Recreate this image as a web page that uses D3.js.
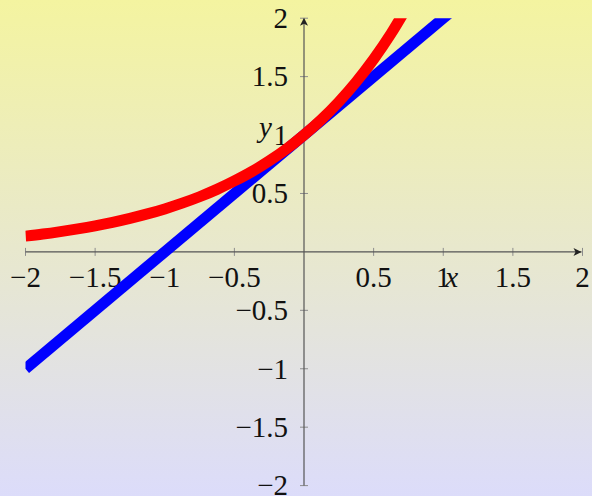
<!DOCTYPE html>
<html>
<head>
<meta charset="utf-8">
<script src="https://cdn.jsdelivr.net/npm/d3@7"></script>
<style>
  html, body { margin: 0; padding: 0; }
  svg { display: block; }
</style>
</head>
<body>
<script>
// Exponential curve samples, y = e^x
const expX = [-2, -1.875, -1.75, -1.625, -1.5, -1.375, -1.25, -1.125, -1, -0.875, -0.75, -0.625, -0.5, -0.375, -0.25, -0.125, 0, 0.125, 0.25, 0.375, 0.5, 0.625, 0.75];
const expY = [0.135, 0.153, 0.174, 0.197, 0.223, 0.253, 0.287, 0.325, 0.368, 0.417, 0.472, 0.535, 0.607, 0.687, 0.779, 0.882, 1, 1.133, 1.284, 1.455, 1.649, 1.868, 2.117];
// Tangent line at x = 0, y = x + 1
const tanX = [-2, 1.5];
const tanY = [-1, 2.5];
// Axis ticks
const xTicks = [-2, -1.5, -1, -0.5, 0.5, 1, 1.5, 2];
const yTicks = [-2, -1.5, -1, -0.5, 0.5, 1, 1.5, 2];
const xDomain = [-2, 2];
const yDomain = [-2, 2];

const W = 592, H = 496;
const svg = d3.select("body").append("svg").attr("width", W).attr("height", H);

const defs = svg.append("defs");
const grad = defs.append("linearGradient").attr("id", "bg")
  .attr("x1", 0).attr("y1", 0).attr("x2", 0).attr("y2", 1);
grad.append("stop").attr("offset", "0%").attr("stop-color", "#f4f4a0");
grad.append("stop").attr("offset", "100%").attr("stop-color", "#dcdcfa");
svg.append("rect").attr("width", W).attr("height", H).attr("fill", "url(#bg)");

const x = d3.scaleLinear().domain(xDomain).range([25.5, 582.5]);
const y = d3.scaleLinear().domain(yDomain).range([485.6, 18.2]);

defs.append("clipPath").attr("id", "plot").append("rect")
  .attr("x", x(-2)).attr("y", y(2))
  .attr("width", x(2) - x(-2)).attr("height", y(-2) - y(2));

const font = "'Liberation Serif', 'DejaVu Serif', serif";
const fmt = v => String(v).replace("-", "\u2212");

// Tick marks
const g = svg.append("g");
g.selectAll("line.xt").data(xTicks).join("line")
  .attr("x1", d => x(d)).attr("x2", d => x(d))
  .attr("y1", y(0) - 4).attr("y2", y(0) + 4)
  .attr("stroke", "#8c8c8c").attr("stroke-width", 1);
g.selectAll("line.yt").data(yTicks).join("line")
  .attr("y1", d => y(d)).attr("y2", d => y(d))
  .attr("x1", x(0) - 4).attr("x2", x(0) + 4)
  .attr("stroke", "#8c8c8c").attr("stroke-width", 1);

// Axis lines
g.append("line").attr("x1", x(-2)).attr("x2", x(2) - 1).attr("y1", y(0)).attr("y2", y(0))
  .attr("stroke", "#555").attr("stroke-width", 1.2);
g.append("line").attr("x1", x(0)).attr("x2", x(0)).attr("y1", y(-2)).attr("y2", y(2) + 1)
  .attr("stroke", "#555").attr("stroke-width", 1.2);

// Arrow heads
const ax = x(2) - 1, ay = y(0);
g.append("path")
  .attr("d", `M${ax},${ay} L${ax - 8},${ay - 4} L${ax - 6},${ay} L${ax - 8},${ay + 4} Z`)
  .attr("fill", "#222");
const bx = x(0), by = y(2) - 0.5;
g.append("path")
  .attr("d", `M${bx},${by} L${bx - 4},${by + 8} L${bx},${by + 6} L${bx + 4},${by + 8} Z`)
  .attr("fill", "#222");

// Tick labels
g.selectAll("text.xl").data(xTicks).join("text")
  .attr("x", d => x(d)).attr("y", y(0) + 35)
  .attr("text-anchor", "middle")
  .attr("font-family", font).attr("font-size", 29).attr("fill", "#111")
  .text(fmt);
g.selectAll("text.yl").data(yTicks).join("text")
  .attr("x", x(0) - 16).attr("y", d => y(d))
  .attr("dy", "0.34em")
  .attr("text-anchor", "end")
  .attr("font-family", font).attr("font-size", 29).attr("fill", "#111")
  .text(fmt);

// Axis labels
g.append("text").attr("x", x(1) + 2).attr("y", y(0) + 35)
  .attr("font-family", font).attr("font-style", "italic").attr("font-size", 29).attr("fill", "#111")
  .text("x");
g.append("text").attr("x", x(0) - 45).attr("y", y(1) + 2)
  .attr("font-family", font).attr("font-style", "italic").attr("font-size", 29).attr("fill", "#111")
  .text("y");

// Curves
const plot = svg.append("g").attr("clip-path", "url(#plot)");
const line = d3.line().x(d => x(d[0])).y(d => y(d[1]));

plot.append("path")
  .datum(tanX.map((v, i) => [v, tanY[i]]))
  .attr("d", line)
  .attr("fill", "none").attr("stroke", "#0000ff").attr("stroke-width", 11);

plot.append("path")
  .datum(expX.map((v, i) => [v, expY[i]]))
  .attr("d", line.curve(d3.curveCatmullRom))
  .attr("fill", "none").attr("stroke", "#ff0000").attr("stroke-width", 11);
</script>
</body>
</html>
